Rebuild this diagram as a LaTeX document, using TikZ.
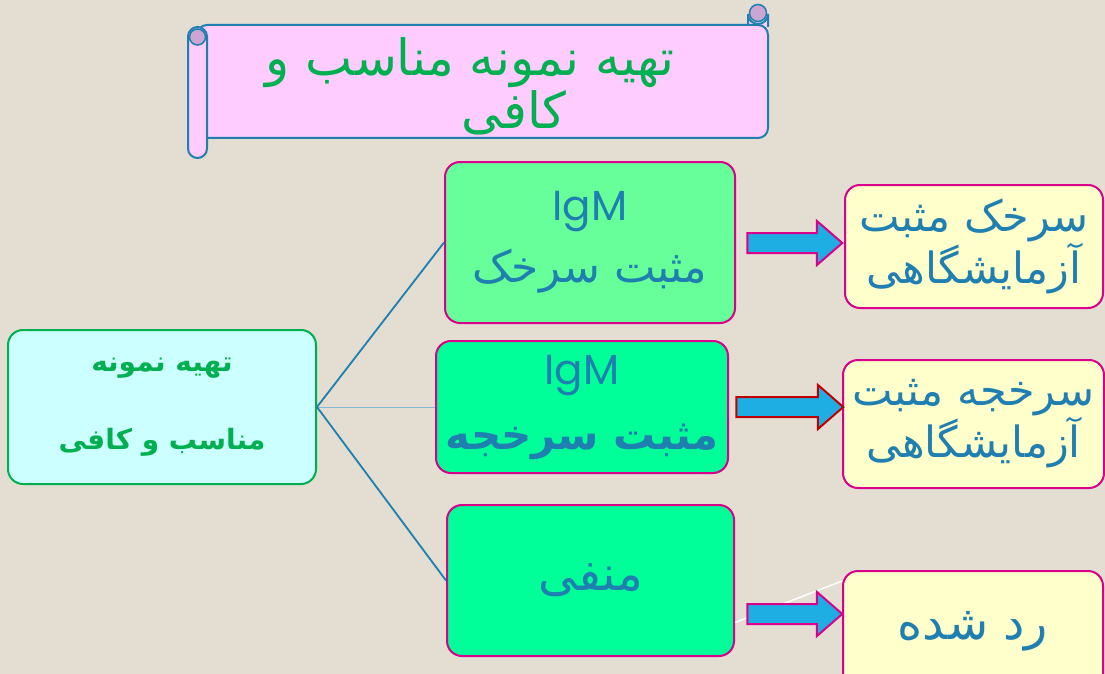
\documentclass[tikz,border=0pt]{standalone}
\usepackage{fontspec}
\setmainfont{DejaVu Sans}
\newfontfamily\arabicfont[Script=Arabic]{DejaVu Sans}
\newfontfamily\igfont{Poppins}
\TeXXeTstate=1
\usetikzlibrary{positioning, shapes.arrows}
\usepackage{xcolor}
\definecolor{paper}{HTML}{E3DDD2}
\definecolor{scrollpink}{HTML}{FFCCFF}
\definecolor{curl}{HTML}{CBA6D2}
\definecolor{steel}{HTML}{1F7FB0}
\definecolor{leaf}{HTML}{00B050}
\definecolor{aqua}{HTML}{CCFFFF}
\definecolor{mint}{HTML}{66FF99}
\definecolor{spring}{HTML}{00FF99}
\definecolor{cream}{HTML}{FFFFCC}
\definecolor{magenta2}{HTML}{D9008C}
\definecolor{sky}{HTML}{1EAEE4}
\definecolor{darkred}{HTML}{C00000}
\newcommand{\fatext}[1]{{\arabicfont\beginR #1\endR}}
\tikzset{
    rootbox/.style={
        rounded corners=15pt,
        draw=leaf,
        fill=aqua,
        line width=2pt,
        text=leaf,
        align=center
    },
    igbox/.style={
        rounded corners=15pt,
        draw=magenta2,
        fill=spring,
        line width=2pt,
        text=steel,
        align=center
    },
    labbox/.style={
        rounded corners=15pt,
        draw=magenta2,
        fill=cream,
        line width=2pt,
        text=steel,
        align=center,
        font=\fontsize{43}{47}\selectfont
    },
    blockarrow/.style={
        single arrow,
        draw=magenta2,
        fill=sky,
        line width=2pt,
        inner sep=9pt,
        single arrow head extend=12pt,
        single arrow tip angle=82
    },
    link/.style={
        steel,
        line width=1.8pt
    }
}

\begin{document}
\begin{tikzpicture}[x=1pt,y=-1pt]

      \fill[paper] (0,0) rectangle (1105,674);
      \clip (0,0) rectangle (1105,674);

      % scroll banner
      \draw[steel, line width=2pt, fill=scrollpink] (748,27) -- (748,14) arc (180:0:10) -- (768,27);
      \draw[steel, line width=1.5pt, fill=curl] (758,13) circle (8.5);
      \draw[steel, line width=2pt, fill=scrollpink, rounded corners=10pt] (197,25) rectangle (768,138);
      \draw[steel, line width=2pt, fill=scrollpink, rounded corners=9.5pt] (188,27) rectangle (207,158);
      \draw[steel, line width=1.5pt, fill=curl] (197.5,37) circle (8);
      \node[text=leaf, align=center, font=\fontsize{50}{53}\selectfont] (title) at (470,86)
        {\fatext{تهیه نمونه مناسب و}\\ \hspace*{88pt}\fatext{کافی}};

      % boxes
      \node[rootbox, minimum width=308pt, minimum height=154pt, font=\bfseries\fontsize{28}{78}\selectfont] (root) at (162,407)
        {\fatext{\bfseries تهیه نمونه}\\ \fatext{\bfseries مناسب و کافی}};
      \node[igbox, fill=mint, minimum width=290pt, minimum height=161pt, font=\fontsize{44}{62}\selectfont] (igA) at (590,242.5)
        {{\fontsize{42}{62}\selectfont\igfont IgM}\\ \fatext{مثبت سرخک}};
      \node[igbox, minimum width=292pt, minimum height=132pt, font=\fontsize{42}{65}\selectfont] (igB) at (582,407)
        {{\igfont IgM}\\ \fatext{\bfseries مثبت سرخجه}};
      \node[igbox, minimum width=287pt, minimum height=151pt, font=\fontsize{48}{50}\selectfont] (igC) at (590.5,580.5)
        {\fatext{منفی}};

      \node[labbox, minimum width=258pt, minimum height=123pt] (labA) at (974,246.5)
        {\fatext{سرخک مثبت}\\ \fatext{آزمایشگاهی}};
      \node[labbox, minimum width=261pt, minimum height=128pt] (labB) at (973.5,424)
        {\fatext{سرخجه مثبت}\\ \fatext{آزمایشگاهی}};
      \node[labbox, minimum width=260pt, minimum height=120pt, font=\fontsize{48}{50}\selectfont] (labC) at (973,631)
        {\fatext{رد شده}};

      % connectors
      \draw[link] (root.east) -- (igA.west);
      \draw[steel!55, line width=1pt] (root.east) -- (igB.west);
      \draw[link] (root.east) -- (igC.west);
      \draw[white, line width=1.5pt] ([yshift=-42pt]igC.east) -- ([yshift=50pt]labC.west);

      % block arrows
      \node[blockarrow, minimum height=95pt, minimum width=43pt] (arrA) at (789,243) {};
      \node[blockarrow, draw=darkred, minimum height=107pt, minimum width=43pt] (arrB) at (784,407) {};
      \node[blockarrow, minimum height=95pt, minimum width=39pt] (arrC) at (789,614) {};

\end{tikzpicture}
\end{document}
